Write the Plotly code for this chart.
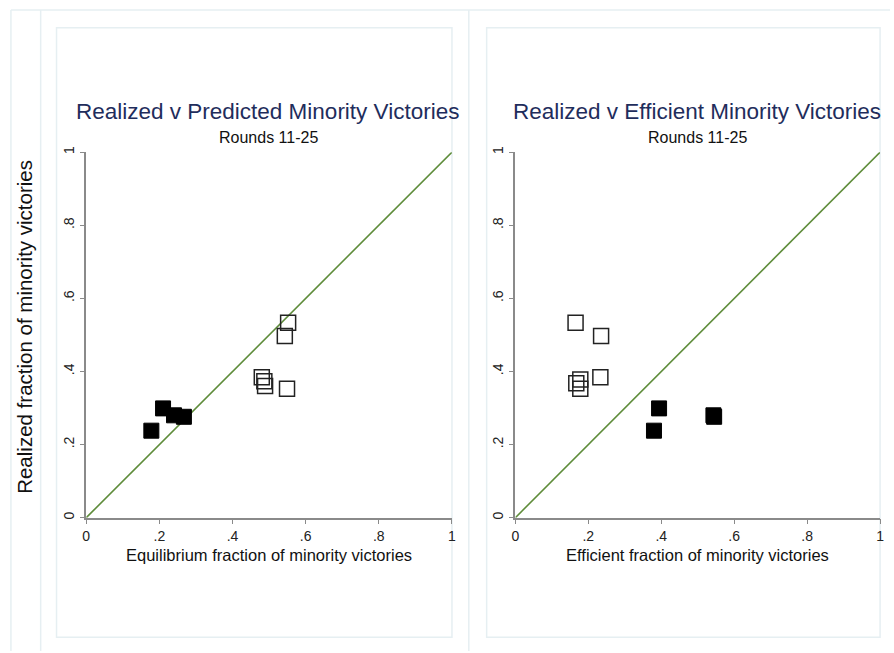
import plotly.graph_objects as go

# ---- data ----
eq_filled_x = [0.178, 0.210, 0.240, 0.267]
eq_filled_y = [0.238, 0.299, 0.280, 0.276]
eq_hollow_x = [0.552, 0.543, 0.480, 0.487, 0.489, 0.549]
eq_hollow_y = [0.533, 0.497, 0.384, 0.373, 0.360, 0.353]

ef_filled_x = [0.380, 0.394, 0.543, 0.545]
ef_filled_y = [0.238, 0.299, 0.280, 0.276]
ef_hollow_x = [0.165, 0.235, 0.233, 0.178, 0.167, 0.178]
ef_hollow_y = [0.533, 0.497, 0.384, 0.378, 0.368, 0.353]

diag_x = [0, 1]
diag_y = [0, 1]

tick_vals = [0, 0.2, 0.4, 0.6, 0.8, 1]
tick_text = ["0", ".2", ".4", ".6", ".8", "1"]

W, H = 894, 653
FONT = "Liberation Sans, Arial, sans-serif"
GREEN = "#5e8c3a"
NAVY = "#1f2d5c"
FRAME = "#e6eff2"

def px(x):
    return x / W

def py(y):
    return 1 - y / H

fig = go.Figure()

for (xa, ya, fx, fy, hx, hy) in [
    ("x", "y", eq_filled_x, eq_filled_y, eq_hollow_x, eq_hollow_y),
    ("x2", "y2", ef_filled_x, ef_filled_y, ef_hollow_x, ef_hollow_y),
]:
    fig.add_trace(go.Scatter(x=diag_x, y=diag_y, mode="lines",
                             line=dict(color=GREEN, width=1.6),
                             xaxis=xa, yaxis=ya, showlegend=False, hoverinfo="skip"))
    fig.add_trace(go.Scatter(x=hx, y=hy, mode="markers",
                             marker=dict(symbol="square-open", size=15,
                                         color="#222222", line=dict(width=1.5)),
                             xaxis=xa, yaxis=ya, showlegend=False))
    fig.add_trace(go.Scatter(x=fx, y=fy, mode="markers",
                             marker=dict(symbol="square", size=15, color="black",
                                         line=dict(width=1, color="black")),
                             xaxis=xa, yaxis=ya, showlegend=False))

axis_common = dict(range=[0, 1], tickvals=tick_vals, ticktext=tick_text,
                   showgrid=False, zeroline=False, showline=True,
                   linecolor="#8a8a8a", linewidth=1.5, ticks="outside",
                   ticklen=5, tickwidth=1.3, tickcolor="#8a8a8a",
                   tickfont=dict(family=FONT, size=14, color="#222222"))

ydom = [py(518), py(148)]
fig.update_layout(
    width=W, height=H,
    margin=dict(l=0, r=0, t=0, b=0),
    paper_bgcolor="white", plot_bgcolor="white",
    xaxis=dict(domain=[px(83), px(452)], anchor="y", **axis_common),
    yaxis=dict(domain=ydom, anchor="x", tickangle=-90, **axis_common),
    xaxis2=dict(domain=[px(516), px(884)], anchor="y2", **axis_common),
    yaxis2=dict(domain=ydom, anchor="x2", tickangle=-90, **axis_common),
)

shapes = []
# panel frames
for x0, x1 in [(53, 452), (487, 884)]:
    shapes.append(dict(type="rect", xref="paper", yref="paper",
                       x0=px(x0), x1=px(x1), y0=py(639), y1=py(22),
                       line=dict(color=FRAME, width=1.5), layer="below"))
# outer frame lines
shapes.append(dict(type="line", xref="paper", yref="paper",
                   x0=px(7), x1=1, y0=py(4), y1=py(4),
                   line=dict(color=FRAME, width=1.5), layer="below"))
for xv in [7, 37, 469]:
    shapes.append(dict(type="line", xref="paper", yref="paper",
                       x0=px(xv), x1=px(xv), y0=0, y1=py(4),
                       line=dict(color=FRAME, width=1.5), layer="below"))
fig.update_layout(shapes=shapes)

ann = []
def text(x, y, s, size, color="#111111", angle=0):
    ann.append(dict(x=px(x), y=py(y), xref="paper", yref="paper", text=s,
                    showarrow=False, xanchor="center", yanchor="middle",
                    textangle=angle, font=dict(family=FONT, size=size, color=color)))

text(266, 107, "Realized v Predicted Minority Victories", 22.5, NAVY)
text(267, 133, "Rounds 11-25", 16)
text(699, 107, "Realized v Efficient Minority Victories", 22.5, NAVY)
text(700, 133, "Rounds 11-25", 16)
text(267, 556, "Equilibrium fraction of minority victories", 16.5)
text(700, 556, "Efficient fraction of minority victories", 16.5)
text(20, 325, "Realized fraction of minority victories", 20.5, angle=-90)
fig.update_layout(annotations=ann)

fig.write_html(
    "out.html",
    config={"displayModeBar": False},
    post_script="document.body.style.margin='0';document.body.style.padding='0';",
)
